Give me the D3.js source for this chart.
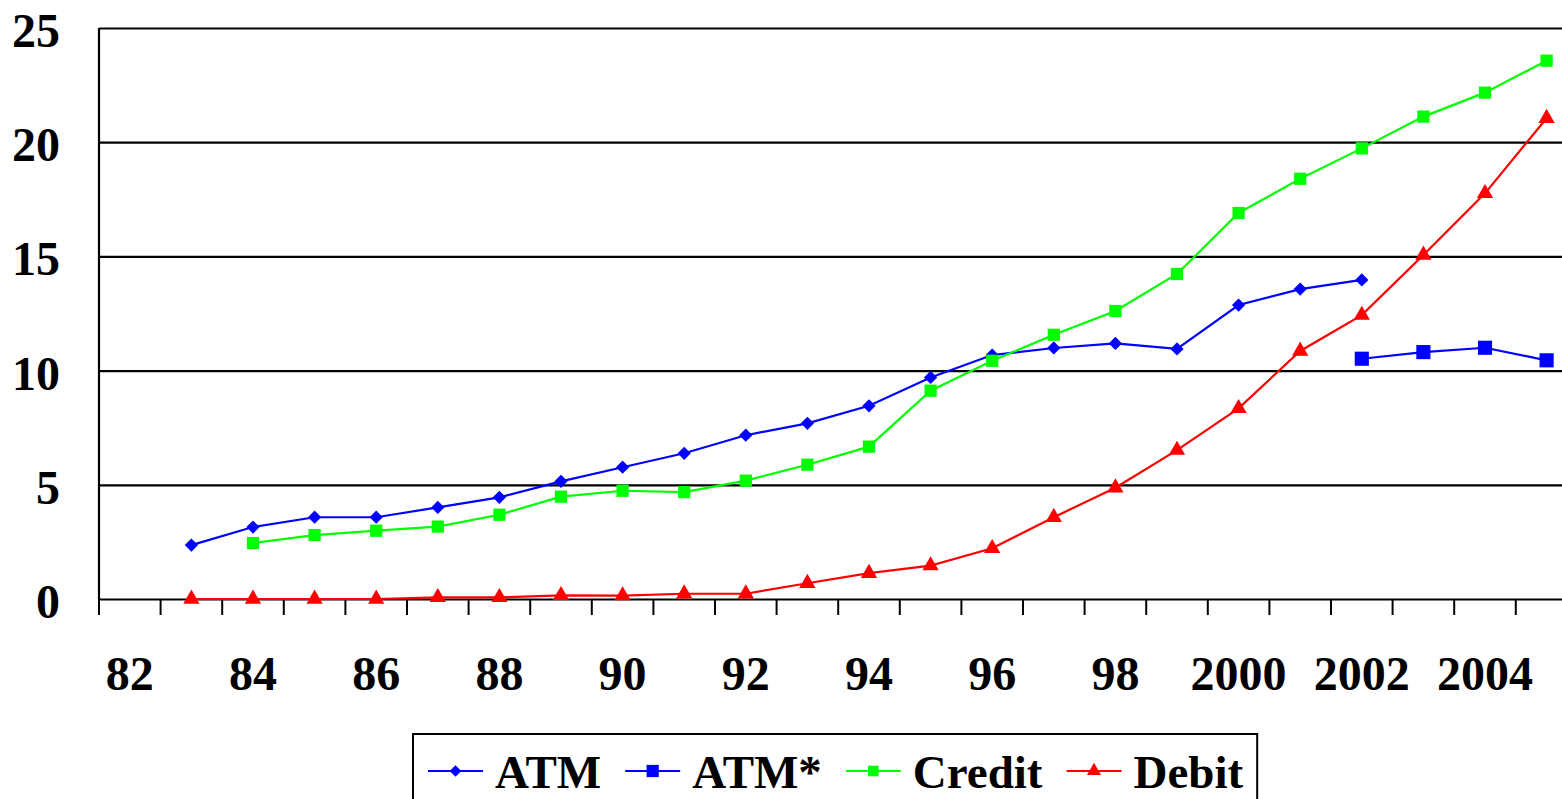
<!DOCTYPE html>
<html>
<head>
<meta charset="utf-8">
<script src="https://cdn.jsdelivr.net/npm/d3@7"></script>
<style>
  body { margin: 0; background: #fff; }
  svg { display: block; }
  text { font-family: "Liberation Serif", "Times New Roman", serif; font-weight: bold; }
</style>
</head>
<body>
<svg id="chart" width="1562" height="799"></svg>
<script>
let years = ["82","83","84","85","86","87","88","89","90","91","92","93","94","95","96","97","98","99","2000","2001","2002","2003","2004","2005"];
let yearLabels = ["82","84","86","88","90","92","94","96","98","2000","2002","2004"];
let yTicks = [0, 5, 10, 15, 20, 25];

// ATM, 1983-2002
let atm = [null, 2.36, 3.15, 3.58, 3.58, 4.01, 4.45, 5.15, 5.77, 6.38, 7.17, 7.69, 8.46, 9.7, 10.68, 10.99, 11.19, 10.95, 12.87, 13.57, 13.97, null, null, null];
// ATM*, 2002-2005
let atmStar = [null, null, null, null, null, null, null, null, null, null, null, null, null, null, null, null, null, null, null, null, 10.52, 10.81, 11.0, 10.45];
let credit = [null, null, 2.45, 2.8, 2.99, 3.17, 3.69, 4.48, 4.74, 4.68, 5.18, 5.88, 6.67, 9.12, 10.43, 11.57, 12.61, 14.23, 16.9, 18.4, 19.73, 21.12, 22.17, 23.57];
let debit = [null, 0, 0, 0, 0, 0.07, 0.07, 0.16, 0.15, 0.23, 0.23, 0.69, 1.13, 1.46, 2.22, 3.58, 4.87, 6.52, 8.35, 10.86, 12.43, 15.06, 17.76, 21.05];

// rot: diamonds are squares turned by 45 degrees
let series = [
    {name: "ATM", values: atm, color: "#0000FF", symbol: d3.symbolSquare, size: 88, rot: 45},
    {name: "ATM*", values: atmStar, color: "#0000FF", symbol: d3.symbolSquare, size: 200, rot: 0},
    {name: "Credit", values: credit, color: "#00FF00", symbol: d3.symbolSquare, size: 150, rot: 0},
    {name: "Debit", values: debit, color: "#FF0000", symbol: d3.symbolTriangle, size: 115, rot: 0}
];

let svg = d3.select("#chart");
let plotLeft = 99, plotTop = 28, plotBottom = 599;
let step = 61.6;

let x = d3.scaleBand()
    .domain(years)
    .range([plotLeft, plotLeft + years.length * step])
    .padding(0);

let y = d3.scaleLinear()
    .domain([0, 25])
    .range([plotBottom, plotTop]);

let plotRight = x.range()[1];

// gridlines + y ticks
svg.append("g")
    .attr("transform", "translate(" + plotLeft + ",0)")
    .call(d3.axisLeft(y).tickValues(yTicks).tickSize(16).tickFormat(""))
    .call(g => g.select(".domain").remove())
    .call(g => g.selectAll(".tick line")
        .attr("x2", plotRight - plotLeft)
        .attr("stroke", "#000")
        .attr("stroke-width", 2.2));

svg.selectAll(".ylab")
    .data(yTicks)
    .enter().append("text")
    .attr("class", "ylab")
    .attr("x", 60)
    .attr("y", d => y(d) + 19)
    .attr("text-anchor", "end")
    .attr("font-size", 48)
    .text(d => d);

// y axis line
svg.append("line")
    .attr("x1", plotLeft).attr("x2", plotLeft)
    .attr("y1", plotTop).attr("y2", plotBottom)
    .attr("stroke", "#000").attr("stroke-width", 2.2);

// x axis ticks at category boundaries
svg.selectAll(".xtick")
    .data(years)
    .enter().append("line")
    .attr("class", "xtick")
    .attr("x1", d => x(d)).attr("x2", d => x(d))
    .attr("y1", plotBottom).attr("y2", plotBottom + 16)
    .attr("stroke", "#000").attr("stroke-width", 2);

svg.selectAll(".xlab")
    .data(yearLabels)
    .enter().append("text")
    .attr("class", "xlab")
    .attr("x", d => x(d) + x.bandwidth() / 2)
    .attr("y", 690)
    .attr("text-anchor", "middle")
    .attr("font-size", 48)
    .text(d => d);

// lines and markers
let line = d3.line()
    .defined(d => d.v !== null)
    .x(d => x(d.year) + x.bandwidth() / 2)
    .y(d => y(d.v));

for (let s of series) {
    let pts = years.map((yr, i) => ({year: yr, v: s.values[i]}));
    svg.append("path")
        .datum(pts)
        .attr("d", line)
        .attr("fill", "none")
        .attr("stroke", s.color)
        .attr("stroke-width", 2.2);

    svg.selectAll(null)
        .data(pts.filter(d => d.v !== null))
        .enter().append("path")
        .attr("d", d3.symbol().type(s.symbol).size(s.size))
        .attr("transform", d => "translate(" + (x(d.year) + x.bandwidth() / 2) + "," + y(d.v) + ") rotate(" + s.rot + ")")
        .attr("fill", s.color);
}

// legend
let legend = svg.append("g");
let box = legend.append("rect")
    .attr("x", 413).attr("y", 734)
    .attr("height", 100)
    .attr("fill", "#fff")
    .attr("stroke", "#000")
    .attr("stroke-width", 2);

let lx = 428;
let ly = 771;
for (let s of series) {
    legend.append("line")
        .attr("x1", lx).attr("x2", lx + 55)
        .attr("y1", ly).attr("y2", ly)
        .attr("stroke", s.color).attr("stroke-width", 2.2);
    legend.append("path")
        .attr("d", d3.symbol().type(s.symbol).size(s.size * 0.75))
        .attr("transform", "translate(" + (lx + 27.5) + "," + ly + ") rotate(" + s.rot + ")")
        .attr("fill", s.color);
    let t = legend.append("text")
        .attr("x", lx + 67)
        .attr("y", 788)
        .attr("font-size", 47)
        .text(s.name);
    lx = lx + 67 + t.node().getComputedTextLength() + 24;
}
box.attr("width", lx - 24 + 14 - 413);
</script>
</body>
</html>
